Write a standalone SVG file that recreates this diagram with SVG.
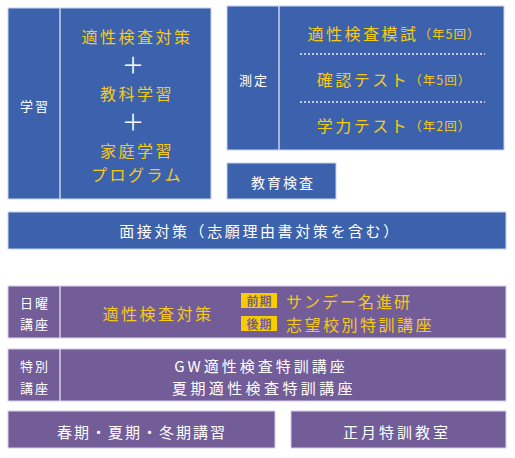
<svg xmlns="http://www.w3.org/2000/svg" width="515" height="458" viewBox="0 0 515 458">
<style>
text{font-family:"Noto Sans CJK JP","Noto Sans",sans-serif;dominant-baseline:central;text-anchor:middle}
text.st{text-anchor:start}
.blue{fill:#3C62AD;stroke:#C9D2EC;stroke-width:1}
.purple{fill:#725D99;stroke:#D6D0E6;stroke-width:1}
.div{stroke:#C9D2EC;stroke-width:1.5}
.divp{stroke:#D6D0E6;stroke-width:1.5}
.w{fill:#FFFFFF}
.y{fill:#F5CA14}
.lab{font-size:13px;letter-spacing:2px;fill:#FFFFFF}
.m{font-size:16px;letter-spacing:2.5px}
.s{font-size:12.5px;letter-spacing:1px}
.dot{stroke:#E8ECF7;stroke-width:1.5;stroke-dasharray:2 2}
.badge{fill:#F9CC00}
.bt{font-size:12px;font-weight:bold;fill:#725D99;letter-spacing:1px}
</style>
<g id="learning">
<rect class="blue" x="8" y="8" width="203" height="191"/>
<line class="div" x1="60" y1="8" x2="60" y2="199"/>
<text class="lab" x="35" y="105">学習</text>
<text class="m y" x="137" y="36">適性検査対策</text>
<text class="w" x="133" y="63" font-size="22">＋</text>
<text class="m y" x="137" y="93">教科学習</text>
<text class="w" x="133" y="120" font-size="22">＋</text>
<text class="m y" x="137" y="150">家庭学習</text>
<text class="m y" x="137" y="174">プログラム</text>
</g>
<g id="measure">
<rect class="blue" x="227" y="6" width="277" height="144"/>
<line class="div" x1="279" y1="6" x2="279" y2="150"/>
<text class="lab" x="254" y="79">測定</text>
<text x="394" y="33"><tspan class="m y">適性検査模試</tspan><tspan class="s y">（年5回）</tspan></text>
<line class="dot" x1="300" y1="54" x2="485" y2="54"/>
<text x="394" y="79"><tspan class="m y">確認テスト</tspan><tspan class="s y">（年5回）</tspan></text>
<line class="dot" x1="300" y1="102" x2="485" y2="102"/>
<text x="394" y="125"><tspan class="m y">学力テスト</tspan><tspan class="s y">（年2回）</tspan></text>
</g>
<g id="kyoiku">
<rect class="blue" x="227" y="163" width="109" height="36"/>
<text class="w" x="283" y="182" font-size="14" letter-spacing="2">教育検査</text>
</g>
<g id="mensetsu">
<rect class="blue" x="8" y="212" width="498" height="37"/>
<text class="w" x="260" y="230" font-size="15" letter-spacing="2.6">面接対策（志願理由書対策を含む）</text>
</g>
<g id="sunday">
<rect class="purple" x="8" y="286" width="498" height="52"/>
<line class="divp" x1="60" y1="286" x2="60" y2="338"/>
<text class="lab" x="35" y="302">日曜</text>
<text class="lab" x="35" y="323">講座</text>
<text class="m y" x="158" y="313">適性検査対策</text>
<rect class="badge" x="241" y="293" width="36" height="15"/>
<text class="bt" x="259.5" y="300.5">前期</text>
<rect class="badge" x="241" y="316" width="36" height="15"/>
<text class="bt" x="259.5" y="323.5">後期</text>
<text class="y st" x="286" y="301" font-size="16" letter-spacing="2">サンデー名進研</text>
<text class="y st" x="286" y="324" font-size="16" letter-spacing="2.5">志望校別特訓講座</text>
</g>
<g id="tokubetsu">
<rect class="purple" x="8" y="349" width="498" height="52"/>
<line class="divp" x1="60" y1="349" x2="60" y2="401"/>
<text class="lab" x="35" y="365">特別</text>
<text class="lab" x="35" y="387">講座</text>
<text class="w" x="261" y="365" font-size="15" letter-spacing="3">GW適性検査特訓講座</text>
<text class="w" x="264" y="387" font-size="15" letter-spacing="3.4">夏期適性検査特訓講座</text>
</g>
<g id="koshu">
<rect class="purple" x="8" y="411" width="267" height="37"/>
<text class="w" x="142" y="431" font-size="15" letter-spacing="2">春期・夏期・冬期講習</text>
</g>
<g id="shogatsu">
<rect class="purple" x="291" y="411" width="215" height="37"/>
<text class="w" x="397" y="431" font-size="15" letter-spacing="3">正月特訓教室</text>
</g>
<g id="connectors"></g>
</svg>
